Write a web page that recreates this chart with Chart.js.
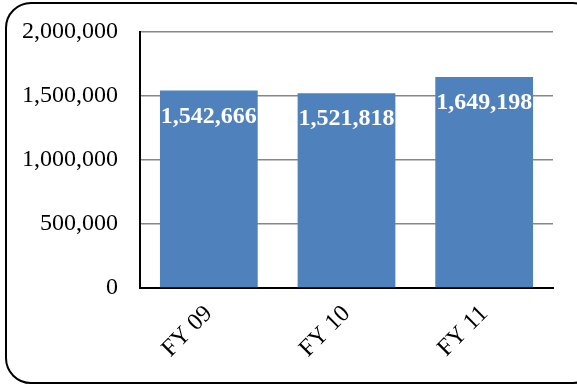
<!DOCTYPE html>
<html>
<head>
<meta charset="utf-8">
<script src="https://cdn.jsdelivr.net/npm/chart.js@4.4.1/dist/chart.umd.min.js"></script>
<style>
  html, body { margin: 0; padding: 0; background: #fff; overflow: hidden; }
  #frame {
    position: absolute; left: 5px; top: 2px;
    width: 590px; height: 378px;
    border: 2px solid #000; border-radius: 26px;
  }
  #myChart { position: absolute; left: 0; top: 0; }
</style>
</head>
<body>
<div id="frame"></div>
<canvas id="myChart" width="577" height="386"></canvas>
<script>
const labels = ["FY 09", "FY 10", "FY 11"];
const values = [1542666, 1521818, 1649198];
const yTicks = [0, 500000, 1000000, 1500000, 2000000];

const serif = "'Liberation Serif', 'Times New Roman', serif";
const plotTop = 32;

// valeurs écrites en blanc en haut de chaque barre
const barLabels = {
  id: "barLabels",
  afterLayout(chart) {
    // remonte le haut de la zone de tracé
    const y = chart.scales.y;
    y.top = plotTop;
    y.height = y.bottom - y.top;
    y.configure();
    chart.chartArea.top = plotTop;
    chart.chartArea.height = chart.chartArea.bottom - plotTop;
  },
  afterDatasetsDraw(chart) {
    const ctx = chart.ctx;
    const meta = chart.getDatasetMeta(0);
    ctx.save();
    ctx.fillStyle = "#fff";
    ctx.font = "bold 24px " + serif;
    ctx.textAlign = "center";
    ctx.textBaseline = "middle";
    meta.data.forEach((bar, i) => {
      ctx.fillText(values[i].toLocaleString("en-US"), bar.x, bar.y + 26);
    });
    ctx.restore();
  }
};

const ctx = document.getElementById("myChart");

new Chart(ctx, {
  type: "bar",
  data: {
    labels: labels,
    datasets: [
      {
        data: values,
        backgroundColor: "#4f81bd",
        borderWidth: 0,
        categoryPercentage: 0.71,
        barPercentage: 1
      }
    ]
  },
  options: {
    responsive: false,
    animation: false,
    layout: { padding: { top: 28, right: 24, left: 0, bottom: 0 } },
    plugins: {
      legend: { display: false },
      tooltip: { enabled: false }
    },
    scales: {
      x: {
        grid: { display: false },
        border: { display: true, color: "#000", width: 2 },
        ticks: {
          color: "#000",
          font: { family: serif, size: 24 },
          minRotation: 45,
          maxRotation: 45,
          padding: 4
        },
        afterFit(scale) { scale.height = 98; }
      },
      y: {
        min: 0,
        max: 2000000,
        afterBuildTicks(scale) {
          scale.ticks = yTicks.map(v => ({ value: v }));
        },
        grid: {
          drawTicks: false,
          color: c => (c.tick && c.tick.value === 0 ? "rgba(0,0,0,0)" : "#878787"),
          lineWidth: 1.5
        },
        border: { display: true, color: "#000", width: 2 },
        ticks: {
          color: "#000",
          font: { family: serif, size: 24 },
          padding: 22,
          callback: v => v.toLocaleString("en-US")
        },
        afterFit(scale) { scale.width = 140; }
      }
    }
  },
  plugins: [barLabels]
});
</script>
</body>
</html>
